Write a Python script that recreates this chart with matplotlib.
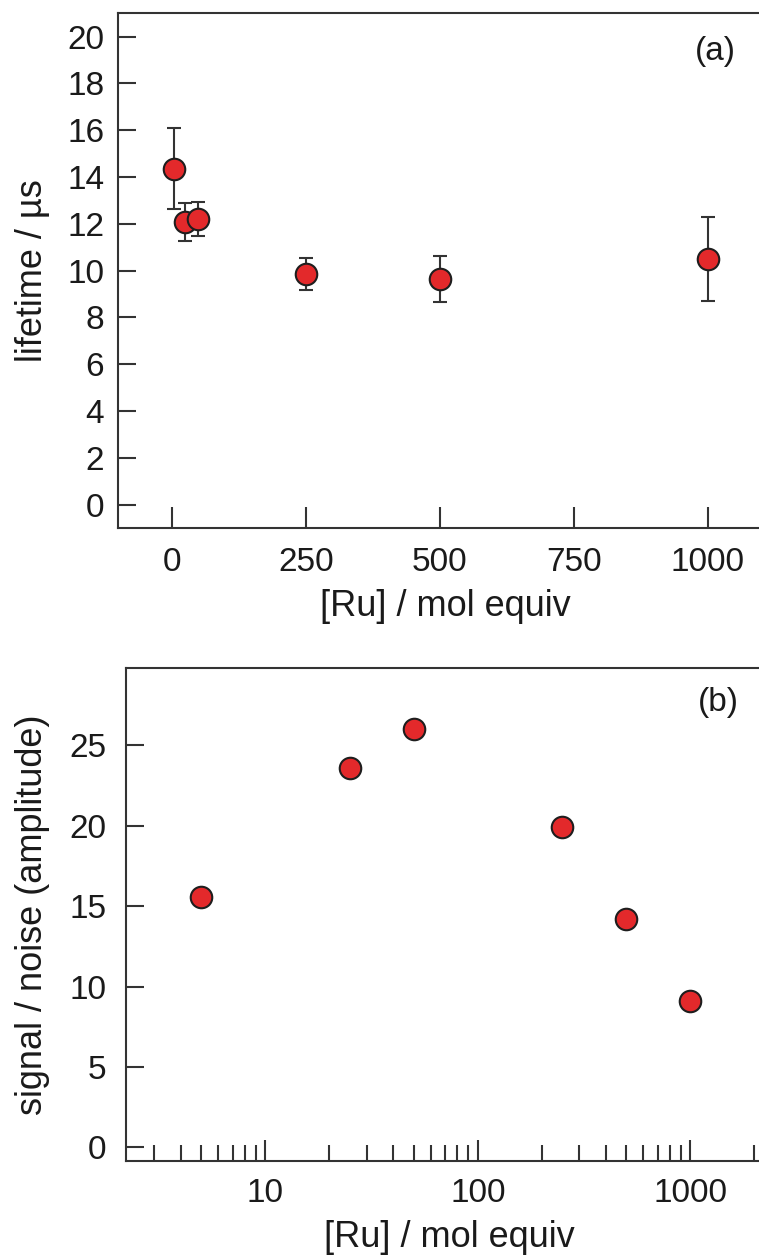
import numpy as np
import matplotlib
matplotlib.use("Agg")
import matplotlib.pyplot as plt
from matplotlib.ticker import LogLocator, NullFormatter, FixedLocator, FixedFormatter

plt.rcParams['font.family'] = ['Liberation Sans', 'DejaVu Sans']

# panel (a): lifetime vs [Ru]
ru = [5, 25, 50, 250, 500, 1000]
lifetime = [14.36, 12.07, 12.21, 9.86, 9.64, 10.51]
lifetime_err = [1.72, 0.80, 0.72, 0.68, 1.00, 1.80]

# panel (b): signal/noise vs [Ru]
sn = [15.6, 23.62, 26.0, 19.91, 14.19, 9.12]

red = '#e3292b'
edge = '#1e1e1e'
axcol = '#333333'
txt = '#1a1a1a'

fig = plt.figure(figsize=(7.59, 12.57), dpi=100)

ax1 = fig.add_axes([0.1555, 0.5800, 0.862, 0.4094])
ax2 = fig.add_axes([0.1656, 0.0764, 0.854, 0.3919])

for ax in (ax1, ax2):
    for s in ax.spines.values():
        s.set_color(axcol)
        s.set_linewidth(1.5)
    ax.spines['right'].set_visible(False)

ax1.errorbar(ru, lifetime, yerr=lifetime_err, fmt='o', color=red, ms=15.5,
             mec=edge, mew=1.5, ecolor=axcol, elinewidth=1.5, capsize=5,
             capthick=1.5, zorder=3)
ax1.set_xlim(-100, 1120)
ax1.set_ylim(-1, 21)
ax1.set_xticks([0, 250, 500, 750, 1000])
ax1.set_yticks(np.arange(0, 21, 2))
ax1.tick_params(axis='both', direction='in', colors=axcol, labelcolor=txt,
                labelsize=24, width=1.5)
ax1.tick_params(axis='y', length=13, pad=10)
ax1.tick_params(axis='x', length=15, pad=14)
ax1.set_xlabel('[Ru] / mol equiv', fontsize=26, color=txt, labelpad=8)
ax1.set_ylabel('lifetime / µs', fontsize=26, color=txt, labelpad=12)
ax1.text(0.913, 0.925, '(a)', transform=ax1.transAxes, ha='center', va='center',
         fontsize=24, color=txt)

ax2.plot(ru, sn, 'o', color=red, ms=15.5, mec=edge, mew=1.5, zorder=3)
ax2.set_xscale('log')
ax2.set_xlim(2.2, 2470)
ax2.set_ylim(-0.85, 29.8)
ax2.set_yticks([0, 5, 10, 15, 20, 25])
ax2.xaxis.set_major_locator(FixedLocator([10, 100, 1000]))
ax2.xaxis.set_major_formatter(FixedFormatter(['10', '100', '1000']))
ax2.xaxis.set_minor_locator(LogLocator(base=10, subs=np.arange(2, 10)))
ax2.xaxis.set_minor_formatter(NullFormatter())
ax2.tick_params(axis='both', which='both', direction='in', colors=axcol,
                labelcolor=txt, labelsize=24, width=1.5)
ax2.tick_params(axis='y', length=13, pad=14)
ax2.tick_params(axis='x', which='major', length=15, pad=12)
ax2.tick_params(axis='x', which='minor', length=11.5)
ax2.set_xlabel('[Ru] / mol equiv', fontsize=26, color=txt, labelpad=8)
ax2.set_ylabel('signal / noise (amplitude)', fontsize=26, color=txt, labelpad=14)
ax2.text(0.915, 0.93, '(b)', transform=ax2.transAxes, ha='center', va='center',
         fontsize=24, color=txt)

fig.savefig('out.png', dpi=100)
